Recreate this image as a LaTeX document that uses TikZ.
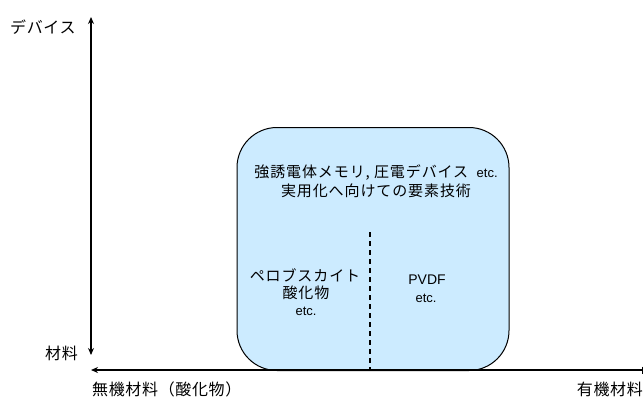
\documentclass[tikz,border=0pt]{standalone}
\usepackage{fontspec}
\setmainfont{Liberation Sans}
\newfontfamily\jp[LetterSpace=6]{Noto Sans CJK JP}
\newfontfamily\jplbl[LetterSpace=4]{Noto Sans CJK JP}
\usetikzlibrary{arrows.meta}
\definecolor{boxblue}{HTML}{CCEBFF}
\begin{document}
\begin{tikzpicture}[x=1pt,y=-1pt,
  axis/.style={line width=1.2pt,-{Stealth[length=7pt,width=6pt]}},
  lbl/.style={font=\jplbl\fontsize{16}{18}\selectfont,inner sep=0pt},
  inner/.style={font=\jp\fontsize{15}{18}\selectfont,align=center,inner sep=0pt},
  latin/.style={font=\fontsize{13}{15}\selectfont,inner sep=0pt},
  ]
\useasboundingbox (0,0) rectangle (644,400);
% box
\node[draw,line width=1pt,fill=boxblue,rounded corners=40pt,minimum width=272pt,minimum height=243pt,anchor=north west] (box) at (236.5,127) {};
\coordinate (dtop) at (370,232);
\coordinate (dbot) at (370,369);
\draw[line width=1.2pt,dash pattern=on 5pt off 4pt] (dtop) -- (dbot);
% axes
\coordinate (vtop) at (91,17);
\coordinate (vmid) at (91,200);
\coordinate (vbot) at (91,355);
\coordinate (hl) at (91,370);
\coordinate (hr) at (643,370);
\draw[axis] (vmid) -- (vtop);
\draw[axis] (vmid) -- (vbot);
\draw[line width=1.2pt,{Stealth[length=7pt,width=6pt]}-{Bar[width=7pt]}] (hl) -- (hr);
% labels
\node[lbl,anchor=west] (dev) at (10,27) {デバイス};
\node[lbl,anchor=east] (mat) at (78,353) {材料};
\node[lbl,anchor=west] (inorg) at (92,389) {無機材料（酸化物）};
\node[lbl,anchor=east] (org) at (643,389) {有機材料};
% inner texts
\node[inner] (t1) at (376,173) {強誘電体メモリ, 圧電デバイス\ \ \fontspec{Liberation Sans}\fontsize{13}{15}\selectfont etc.};
\node[inner] (t2) at (376,191) {実用化へ向けての要素技術};
\node[inner] (p1) at (305,275) {ペロブスカイト};
\node[inner] (p2) at (306,293) {酸化物};
\node[latin] (p3) at (306,311) {etc.};
\node[latin,font=\fontsize{14}{15}\selectfont] (v1) at (427,280) {PVDF};
\node[latin] (v2) at (426,298) {etc.};
\end{tikzpicture}
\end{document}
